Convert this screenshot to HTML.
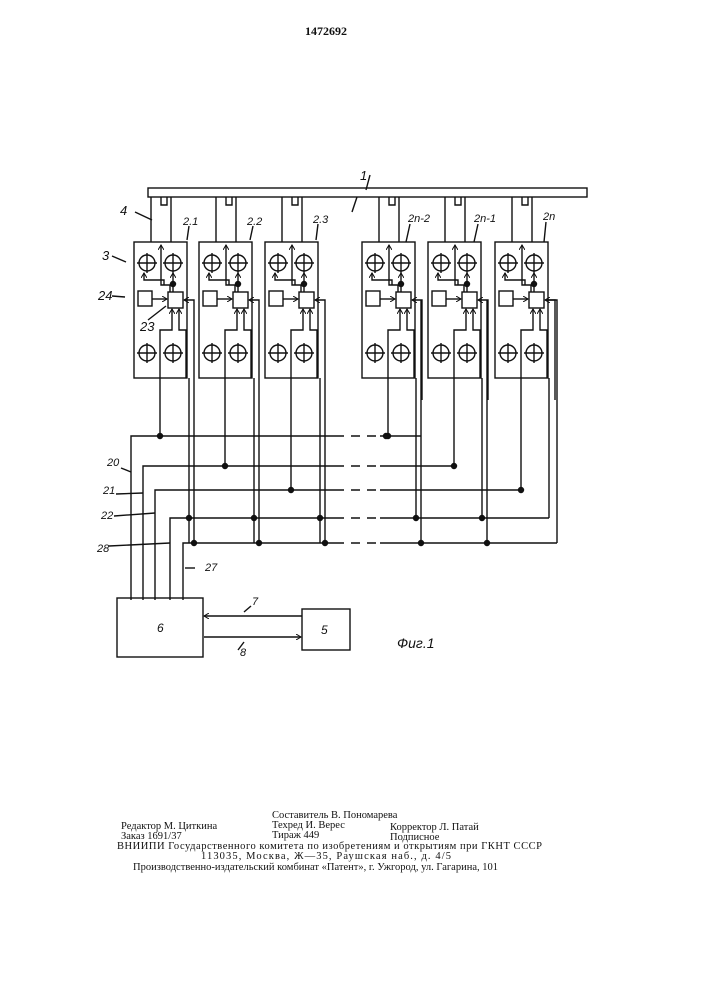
<!DOCTYPE html>
<html><head><meta charset="utf-8"><style>
html,body{margin:0;padding:0;background:#fff;}
svg{display:block}
.t{font-family:"Liberation Serif",serif;font-size:10.5px;fill:#111}
.l{font-family:"Liberation Sans",sans-serif;font-style:italic;font-size:13px;fill:#111}
</style></head><body>
<svg id="s" width="707" height="1000" viewBox="0 0 707 1000" xmlns="http://www.w3.org/2000/svg">
<defs><marker id="a" markerWidth="6" markerHeight="6" refX="5" refY="3" orient="auto" markerUnits="userSpaceOnUse"><path d="M0,0 L5,3 L0,6" fill="none" stroke="#111" stroke-width="1"/></marker></defs>
<g id="g" stroke="#111" stroke-width="1.4" fill="none"></g>
<text class="t" x="305" y="35" style="font-size:12px;font-weight:bold">1472692</text>
<text class="l" x="360" y="180">1</text>
<text class="l" x="120" y="215">4</text>
<text class="l" x="102" y="260">3</text>
<text class="l" x="98" y="300">24</text>
<text class="l" x="140" y="331">23</text>
<text class="l" x="183" y="225" style="font-size:11px">2.1</text>
<text class="l" x="247" y="225" style="font-size:11px">2.2</text>
<text class="l" x="313" y="223" style="font-size:11px">2.3</text>
<text class="l" x="408" y="222" style="font-size:11px">2n-2</text>
<text class="l" x="474" y="222" style="font-size:11px">2n-1</text>
<text class="l" x="543" y="220" style="font-size:11px">2n</text>
<text class="l" x="107" y="466" style="font-size:11px">20</text>
<text class="l" x="103" y="494" style="font-size:11px">21</text>
<text class="l" x="101" y="519" style="font-size:11px">22</text>
<text class="l" x="97" y="552" style="font-size:11px">28</text>
<text class="l" x="205" y="571" style="font-size:11px">27</text>
<text class="l" x="157" y="632" style="font-size:12px">6</text>
<text class="l" x="321" y="634" style="font-size:12px">5</text>
<text class="l" x="252" y="605" style="font-size:11px">7</text>
<text class="l" x="240" y="656" style="font-size:11px">8</text>
<text class="l" x="397" y="648" style="font-size:14px">Фиг.1</text>
<text class="t" x="272" y="818">Составитель В. Пономарева</text>
<text class="t" x="121" y="829">Редактор М. Циткина</text>
<text class="t" x="272" y="828">Техред И. Верес</text>
<text class="t" x="390" y="830">Корректор Л. Патай</text>
<text class="t" x="121" y="839">Заказ 1691/37</text>
<text class="t" x="272" y="838">Тираж 449</text>
<text class="t" x="390" y="840">Подписное</text>
<text class="t" x="117" y="849" textLength="425">ВНИИПИ Государственного комитета по изобретениям и открытиям при ГКНТ СССР</text>
<text class="t" x="201" y="859" textLength="250">113035, Москва, Ж—35, Раушская наб., д. 4/5</text>
<text class="t" x="133" y="870" textLength="365">Производственно-издательский комбинат «Патент», г. Ужгород, ул. Гагарина, 101</text>
</svg>
<script>
var g=document.getElementById('g'),NS='http://www.w3.org/2000/svg';
function e(t,a){var n=document.createElementNS(NS,t);for(var k in a)n.setAttribute(k,a[k]);g.appendChild(n);return n;}
function L(x1,y1,x2,y2,m){var o=e('line',{x1:x1,y1:y1,x2:x2,y2:y2});if(m)o.setAttribute('marker-end','url(#a)');}
function P(pts,m){var o=e('polyline',{points:pts});if(m)o.setAttribute('marker-end','url(#a)');}
function D(x,y){e('circle',{cx:x,cy:y,r:2.5,fill:'#111'});}
function C(x,y){e('circle',{cx:x,cy:y,r:8});L(x-10,y,x+10,y);L(x,y-10,x,y+10);}
// bus
e('rect',{x:148,y:188,width:439,height:9});
L(357,197,352,212);L(370,175,366,190);
var xs=[134,199,265,362,428,495],Y=[436,466,490,518,543],bus=[0,1,2,0,1,2];
xs.forEach(function(x0,i){
 e('rect',{x:x0,y:242,width:53,height:136});
 L(x0+17,197,x0+17,242);L(x0+37,197,x0+37,242);
 P((x0+27)+',197 '+(x0+27)+',205 '+(x0+33)+',205 '+(x0+33)+',197');
 C(x0+13,263);C(x0+39,263);C(x0+13,353);C(x0+39,353);
 e('rect',{x:x0+4,y:291,width:14,height:15});
 e('rect',{x:x0+34,y:292,width:15,height:16});
 L(x0+18,299,x0+33,299,1);
 // outputs up
 P((x0+36)+',292 '+(x0+36)+',285 '+(x0+27)+',285 '+(x0+27)+',245',1);
 L(x0+39,292,x0+39,273,1);D(x0+39,284);
 P((x0+30)+',285 '+(x0+30)+',280 '+(x0+10)+',280 '+(x0+10)+',273',1);
 // inner lower rect
 P((x0+26)+',378 '+(x0+26)+',330 '+(x0+38)+',330 '+(x0+38)+',309',1);
 P((x0+52)+',378 '+(x0+52)+',330 '+(x0+45)+',330 '+(x0+45)+',309',1);
 P((x0+60)+',400 '+(x0+60)+',300 '+(x0+50)+',300',1);
 // down lines
 var b=Y[bus[i]];
 L(x0+26,378,x0+26,b);D(x0+26,b);
});
// left group right lines
[134,199,265].forEach(function(x0){L(x0+55,378,x0+55,518);D(x0+55,518);L(x0+60,400,x0+60,543);D(x0+60,543);L(x0+55,518,x0+55,543);});
// right group
L(416,378,416,518);D(416,518);L(421,300,421,543);D(421,543);
L(482,378,482,518);D(482,518);L(487,300,487,543);D(487,543);
P('547,300 557,300 557,543');P('549,378 549,518');
// horizontals
var lx=[131,143,155,170,183];
var rx=[421,452,518,549,557];
Y.forEach(function(y,k){
 P(lx[k]+',600 '+lx[k]+','+y+' 335,'+y);
 e('line',{x1:335,y1:y,x2:380,y2:y,'stroke-dasharray':'9,7'});
 L(380,y,rx[k],y);
});
D(386,436);
// blocks
e('rect',{x:117,y:598,width:86,height:59});
e('rect',{x:302,y:609,width:48,height:41});
L(302,616,204,616,1);L(204,637,301,637,1);
L(244,612,251,606);L(244,642,238,650);
// leader lines
L(135,212,152,220);L(112,256,126,262);L(112,296,125,297);L(148,320,166,306);
L(189,226,187,240);L(253,226,250,240);L(318,224,316,240);L(410,224,406,242);L(478,224,474,242);L(546,222,544,242);
L(121,468,131,472);L(116,494,143,493);L(114,516,155,513);L(109,546,170,543);L(195,568,185,568);
</script>
</body></html>
